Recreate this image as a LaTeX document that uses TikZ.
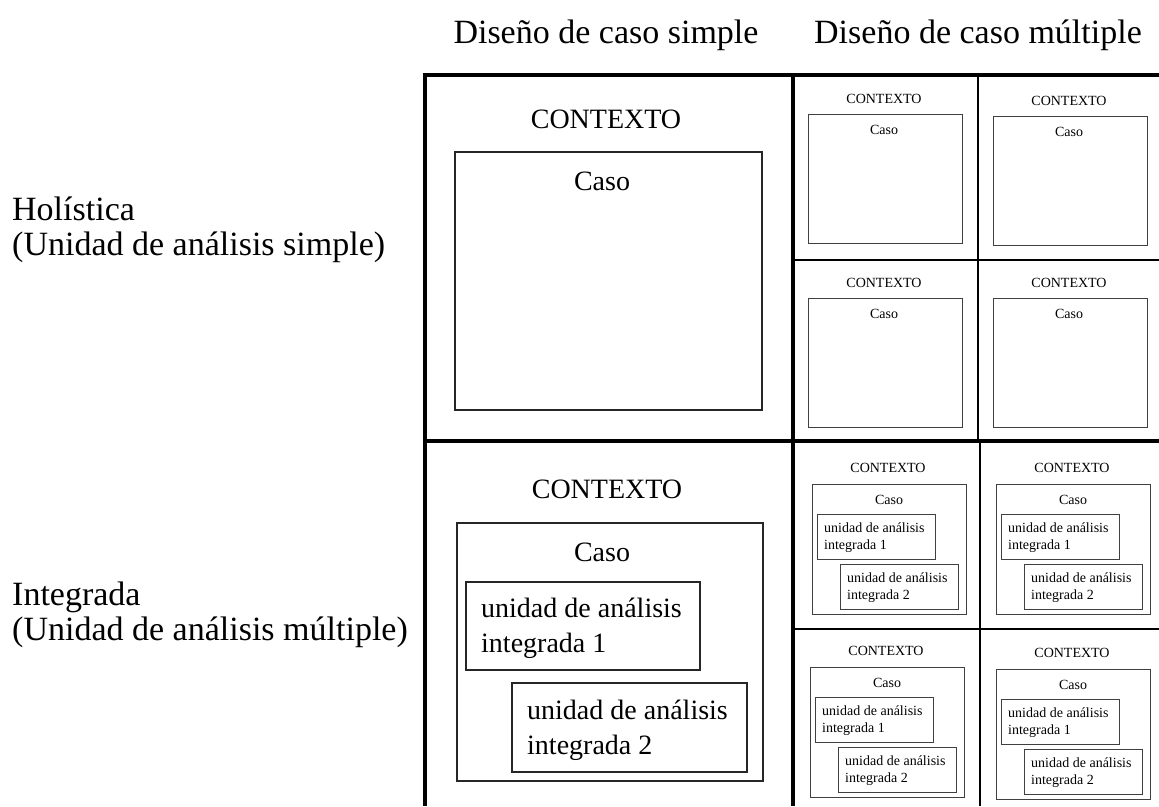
\documentclass[tikz,border=0pt]{standalone}
\usepackage{fontspec}
\setmainfont{Liberation Serif}
\begin{document}
\begin{tikzpicture}[x=1pt,y=-1pt,
  hdr/.style={font=\fontsize{34}{35}\selectfont, inner sep=0pt},
  mid/.style={font=\fontsize{28}{35}\selectfont, inner sep=0pt},
  sml/.style={font=\fontsize{14}{17}\selectfont, inner sep=0pt},
  gridline/.style={line width=3.5pt, black},
  thingrid/.style={line width=2.2pt, black},
  bigbox/.style={draw=black!85, line width=1.6pt, inner sep=0pt, anchor=north west},
  smallbox/.style={draw=black!75, line width=1pt, inner sep=0pt, anchor=north west}]
\useasboundingbox (0,0) rectangle (1159,806);
\fill[white] (0,0) rectangle (1159,806);

% headers
\node[hdr, anchor=base] (hsimple) at (606,43) {Diseño de caso simple};
\node[hdr, anchor=base] (hmult) at (978,43) {Diseño de caso múltiple};

% row labels
\node[hdr, anchor=base west] (lhol) at (12,220) {Holística};
\node[hdr, anchor=base west] (lhol2) at (12,255) {(Unidad de análisis simple)};
\node[hdr, anchor=base west] (lint) at (12,605) {Integrada};
\node[hdr, anchor=base west] (lint2) at (12,640) {(Unidad de análisis múltiple)};

% grid
\coordinate (gtl) at (425,75);
\coordinate (gtr) at (1159,75);
\coordinate (gbl) at (425,806);
\coordinate (gml) at (425,441);
\coordinate (gmr) at (1159,441);
\coordinate (vt) at (793,75);
\coordinate (vb) at (793,806);
\draw[gridline] (gtr) -- (gtl) -- (gbl);
\draw[gridline] (gml) -- (gmr);
\draw[gridline] (vt) -- (vb);
\coordinate (v2t) at (978,75);
\coordinate (v2m) at (978,441);
\coordinate (v3m) at (980,441);
\coordinate (v3b) at (980,806);
\draw[thingrid] (v2t) -- (v2m);
\draw[thingrid] (v3m) -- (v3b);
\coordinate (h1l) at (793,260);
\coordinate (h1r) at (1159,260);
\coordinate (h2l) at (793,629);
\coordinate (h2r) at (1159,629);
\draw[thingrid] (h1l) -- (h1r);
\draw[thingrid] (h2l) -- (h2r);

% simple holistic
\node[mid, anchor=base] (sctx1) at (606,128) {CONTEXTO};
\node[bigbox, minimum width=307pt, minimum height=258pt] (scaso1) at (454,151) {};
\node[mid, anchor=base] (scl1) at (602,190) {Caso};

% simple integrated
\node[mid, anchor=base] (sctx2) at (607,498) {CONTEXTO};
\node[bigbox, minimum width=306pt, minimum height=258pt] (scaso2) at (456,522) {};
\node[mid, anchor=base] (scl2) at (602,561) {Caso};
\node[bigbox, minimum width=234pt, minimum height=88pt] (su1) at (465,581) {};
\node[mid, anchor=west, align=left] (su1t) at (481,628) {unidad de análisis\\integrada 1};
\node[bigbox, minimum width=235pt, minimum height=89pt] (su2) at (511,682) {};
\node[mid, anchor=west, align=left] (su2t) at (527,730) {unidad de análisis\\integrada 2};

% multiple holistic cells
\foreach \nm/\ox/\oy in {ha/793/74, hb/978/76, hc/793/258, hd/978/258}{
  \begin{scope}[shift={(\ox,\oy)}]
    \node[sml, anchor=base] (\nm ctx) at (91,29) {CONTEXTO};
    \node[smallbox, minimum width=154pt, minimum height=129pt] (\nm caso) at (15,40) {};
    \node[sml, anchor=base] (\nm cl) at (91,60) {Caso};
  \end{scope}
}

% multiple integrated cells
\foreach \nm/\ox/\oy in {ia/795/444, ib/979/444, ic/793/627, id/979/629}{
  \begin{scope}[shift={(\ox,\oy)}]
    \node[sml, anchor=base] (\nm ctx) at (93,28) {CONTEXTO};
    \node[smallbox, minimum width=154pt, minimum height=130pt] (\nm caso) at (17,40) {};
    \node[sml, anchor=base] (\nm cl) at (94,60) {Caso};
    \node[smallbox, minimum width=118pt, minimum height=45pt] (\nm u1) at (22,70) {};
    \node[sml, anchor=west, align=left] (\nm u1t) at (29,94) {unidad de análisis\\integrada 1};
    \node[smallbox, minimum width=118pt, minimum height=45pt] (\nm u2) at (45,120) {};
    \node[sml, anchor=west, align=left] (\nm u2t) at (52,144) {unidad de análisis\\integrada 2};
  \end{scope}
}
\end{tikzpicture}
\end{document}
